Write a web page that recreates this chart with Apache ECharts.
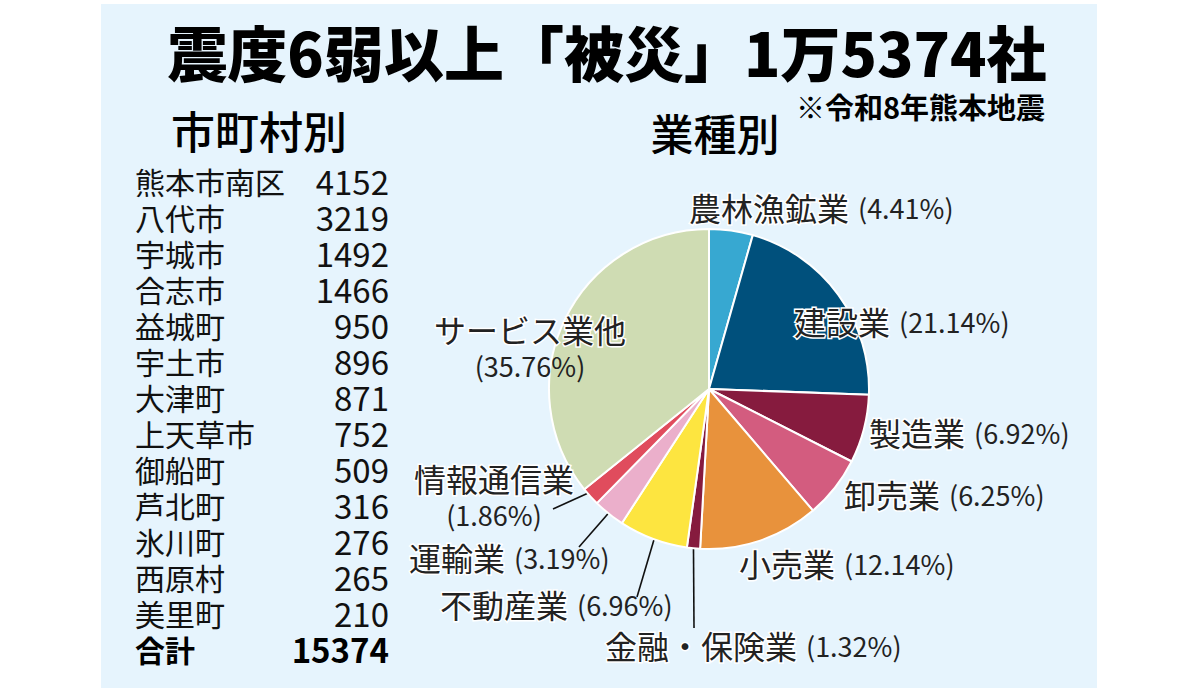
<!DOCTYPE html>
<html lang="ja">
<head>
<meta charset="utf-8">
<title>震度6弱以上「被災」1万5374社</title>
<script src="https://cdn.jsdelivr.net/npm/echarts@6/dist/echarts.min.js"></script>
<style>
  html, body { margin: 0; padding: 0; background: #fff; }
  #chart { width: 1200px; height: 692px; }
</style>
</head>
<body>
<div id="chart"></div>
<script>
(function() {
  var FONT = '"Noto Sans CJK JP", "Noto Sans", sans-serif';

  // --- data: 市町村別 ---
  var cities = ['熊本市南区', '八代市', '宇城市', '合志市', '益城町', '宇土市', '大津町',
                '上天草市', '御船町', '芦北町', '氷川町', '西原村', '美里町'];
  var cityCounts = [4152, 3219, 1492, 1466, 950, 896, 871, 752, 509, 316, 276, 265, 210];
  var totalLabel = '合計';
  var totalCount = 15374;

  // --- data: 業種別 (%) ---
  var industries = ['農林漁鉱業', '建設業', '製造業', '卸売業', '小売業', '金融・保険業',
                    '不動産業', '運輸業', '情報通信業', 'サービス業他'];
  var shares = [4.41, 21.14, 6.92, 6.25, 12.14, 1.32, 6.96, 3.19, 1.86, 35.76];

  var colors = ['#37a8d1', '#00507c', '#861b3e', '#d35c7f', '#e8923c',
                '#861b3e', '#fde540', '#ebafcb', '#e04c5d', '#cfdcb3'];

  // label placement (pixels) and guide lines
  var cx = 709, cy = 389;
  var labelPos = {
    '農林漁鉱業':   { x: 689, y: 207 },
    '建設業':       { x: 794, y: 321 },
    '製造業':       { x: 869, y: 432 },
    '卸売業':       { x: 844, y: 494 },
    '小売業':       { x: 739, y: 563 },
    '金融・保険業': { x: 605, y: 645, k: 1.0, end: [694, 628] },
    '不動産業':     { x: 440, y: 604, k: 0.9, end: [637, 597] },
    '運輸業':       { x: 409, y: 557, k: 0.9, end: [579, 547] },
    '情報通信業':   { x: 494, y: 496, align: 'center', k: 0.92, end: [553, 509] },
    'サービス業他': { x: 530, y: 347, align: 'center' }
  };
  var twoLine = { '情報通信業': true, 'サービス業他': true };

  var pieData = industries.map(function(name, i) {
    return {
      name: name,
      value: shares[i],
      itemStyle: { color: colors[i] },
      labelLine: { show: !!labelPos[name].end }
    };
  });

  // --- table texts ---
  var rowTop = 181, rowStep = 36;
  var tableEls = [];
  function cell(x, y, text, font, align, fill) {
    return {
      type: 'text', x: x, y: y,
      style: { text: text, font: font, fill: fill, textAlign: align,
               textVerticalAlign: 'middle', lineHeight: 30 }
    };
  }
  cities.forEach(function(c, i) {
    var y = rowTop + i * rowStep;
    tableEls.push(cell(135, y, c, '400 30px ' + FONT, 'left', '#111'));
    tableEls.push(cell(389, y, String(cityCounts[i]), '400 33px ' + FONT, 'right', '#111'));
  });
  var totalY = rowTop + cities.length * rowStep;
  tableEls.push(cell(135, totalY, totalLabel, '700 30px ' + FONT, 'left', '#000'));
  tableEls.push(cell(389, totalY, String(totalCount), '700 33px ' + FONT, 'right', '#000'));

  var chart = echarts.init(document.getElementById('chart'), null, { renderer: 'svg' });
  chart.setOption({
    animation: false,
    backgroundColor: '#ffffff',
    graphic: [
      { type: 'rect', z: -10, shape: { x: 101, y: 4, width: 996, height: 684 }, style: { fill: '#e6f4fd' } },
      { type: 'text', x: 607, y: 50,
        style: { text: '震度6弱以上「被災」1万5374社', font: '900 60px ' + FONT, fill: '#000',
                 textAlign: 'center', textVerticalAlign: 'middle' } },
      { type: 'text', x: 1045, y: 106,
        style: { text: '※令和8年熊本地震', font: '700 29px ' + FONT, fill: '#000',
                 textAlign: 'right', textVerticalAlign: 'middle' } },
      { type: 'text', x: 259, y: 130,
        style: { text: '市町村別', font: '500 44px ' + FONT, fill: '#000',
                 textAlign: 'center', textVerticalAlign: 'middle' } },
      { type: 'text', x: 715, y: 132,
        style: { text: '業種別', font: '500 43px ' + FONT, fill: '#000',
                 textAlign: 'center', textVerticalAlign: 'middle' } }
    ].concat(tableEls),
    series: [{
      type: 'pie',
      center: [cx, cy],
      radius: 160,
      startAngle: 90,
      clockwise: true,
      avoidLabelOverlap: false,
      data: pieData,
      itemStyle: { borderColor: '#ffffff', borderWidth: 2 },
      label: {
        show: true,
        position: 'outside',
        color: '#222',
        fontFamily: FONT,
        formatter: function(p) {
          if (twoLine[p.name]) {
            return '{n|' + p.name + '}\n{p|(' + p.value.toFixed(2) + '%)}';
          }
          return '{n|' + p.name + '}{s|(' + p.value.toFixed(2) + '%)}';
        },
        rich: {
          n: { fontSize: 32, fontFamily: FONT, color: '#222', lineHeight: 36,
               textBorderColor: '#ffffff', textBorderWidth: 3 },
          p: { fontSize: 27, fontFamily: FONT, color: '#222', lineHeight: 36 },
          s: { fontSize: 27, fontFamily: FONT, color: '#222', lineHeight: 36, padding: [0, 0, 0, 9] }
        }
      },
      labelLine: {
        show: true,
        lineStyle: { color: '#111', width: 1.6 }
      },
      labelLayout: function(params) {
        var pos = labelPos[industries[params.dataIndex]];
        var out = {
          x: pos.x,
          y: pos.y,
          align: pos.align || 'left',
          verticalAlign: 'middle'
        };
        if (pos.end && params.labelLinePoints) {
          var p0 = params.labelLinePoints[0];
          var k = pos.k;
          var start = [cx + (p0[0] - cx) * k, cy + (p0[1] - cy) * k];
          out.labelLinePoints = [start, pos.end];
        }
        return out;
      }
    }]
  });
  window.addEventListener('resize', function() { chart.resize(); });
})();
</script>
</body>
</html>
